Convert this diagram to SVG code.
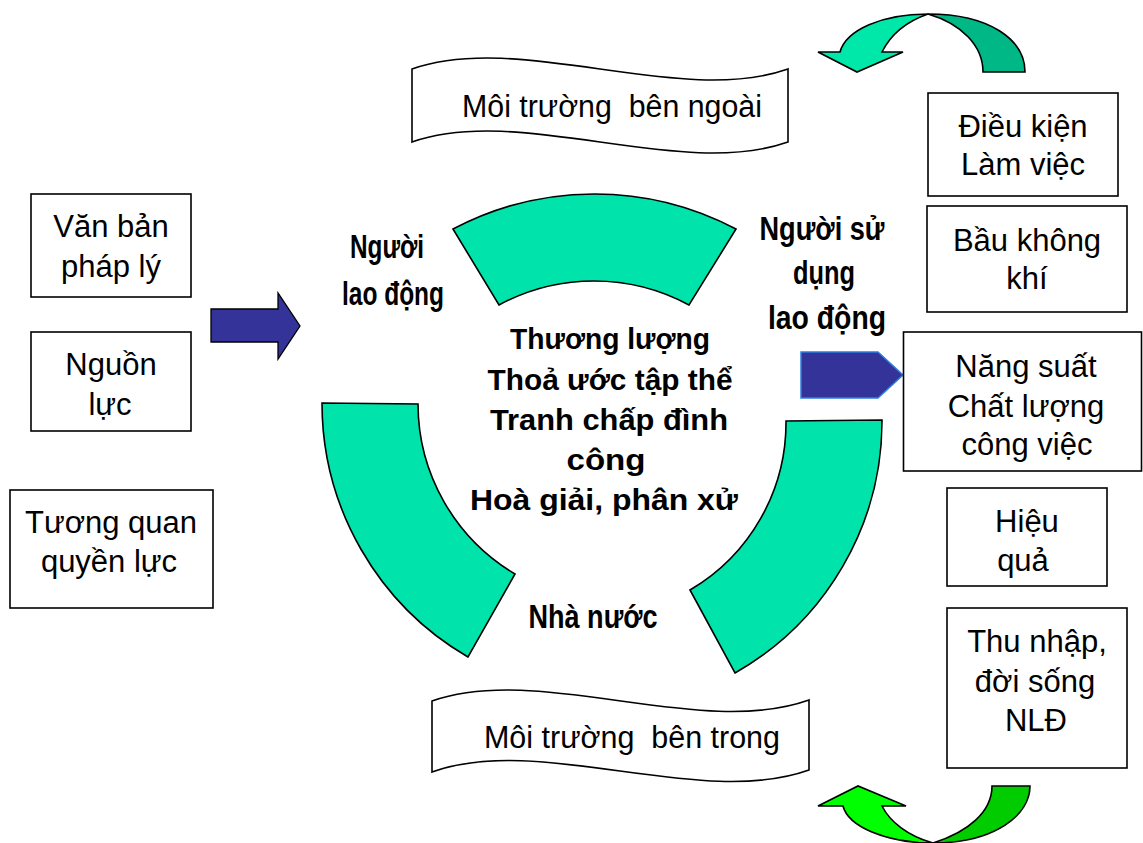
<svg xmlns="http://www.w3.org/2000/svg" width="1143" height="843" viewBox="0 0 1143 843">
<style>
.box{fill:#fff;stroke:#000;stroke-width:1.6}
.t{font-family:"Liberation Sans",Arial,sans-serif;font-size:31px;fill:#000;text-anchor:middle}
.c{font-family:"Liberation Sans",Arial,sans-serif;font-size:30px;font-weight:bold;fill:#000;text-anchor:middle}
.n{font-family:"Liberation Sans",Arial,sans-serif;font-size:33px;font-weight:bold;fill:#000;text-anchor:middle}
.seg{fill:#00E3AA;stroke:#000;stroke-width:1.6;stroke-linejoin:miter}
.blue{fill:#333399;stroke:#000;stroke-width:1.3}
.band{stroke:#000;stroke-width:1.6;stroke-linejoin:miter}
</style>
<rect width="1143" height="843" fill="#fff"/>

<g id="ring">
<path class="seg" d="M453,229 A303,303 0 0 1 736,229 L689,305 A200,200 0 0 0 499,305 Z"/>
<path class="seg" d="M322,403 L418,404 A198,198 0 0 0 515,574 L468,657 A294,294 0 0 1 322,403 Z"/>
<path class="seg" d="M882,420 L786,421 A194,194 0 0 1 690,590 L735,673 A290,290 0 0 0 882,420 Z"/>
</g>

<g id="connectors">
<path class="blue" d="M211,309 L278,309 L278,293 L300,326 L278,359 L278,342 L211,342 Z"/>
<path d="M801,352 L878,352 L903,375 L878,398 L801,398 Z" fill="#333399" stroke="#2F7FE0" stroke-width="1.5"/>
<g id="arrow-top">
<path class="band" fill="#00B886" d="M928,14 C990,14 1025,40 1025,72 L983,72 C983,46 962,24 928,14 Z"/>
<path class="band" fill="#00E8A9" d="M928,14 C882,14 846,30 840,52 L818,52 L857,72 L903,52 L882,52 C890,36 905,22 928,14 Z"/>
</g>
<g id="arrow-bottom">
<path class="band" fill="#00CC00" d="M933,843 C995,843 1030,815 1030,786 L992,786 C992,812 968,832 933,843 Z"/>
<path class="band" fill="#00FF00" d="M933,843 C885,843 848,826 843,806 L818,806 L858,786 L906,806 L882,806 C890,822 908,836 933,843 Z"/>
</g>
</g>

<g id="env-outer">
<path class="box" d="M412,69 C520,31 680,107 788,69 L788,142 C680,180 520,104 412,142 Z"/>
<text class="t" x="612" y="117" textLength="300" lengthAdjust="spacingAndGlyphs" xml:space="preserve">Môi trường  bên ngoài</text>
</g>
<g id="env-inner">
<path class="box" d="M432,701 C540,663 700,739 809,700 L809,770 C700,809 540,733 432,772 Z"/>
<text class="t" x="632" y="748" textLength="296" lengthAdjust="spacingAndGlyphs" xml:space="preserve">Môi trường  bên trong</text>
</g>

<g id="van-ban">
<rect class="box" x="31" y="194" width="160" height="103"/>
<text class="t" x="111" y="237">Văn bản</text>
<text class="t" x="111" y="277">pháp lý</text>
</g>
<g id="nguon-luc">
<rect class="box" x="31" y="332" width="160" height="99"/>
<text class="t" x="111" y="375">Nguồn</text>
<text class="t" x="110" y="415">lực</text>
</g>
<g id="tuong-quan">
<rect class="box" x="10" y="490" width="203" height="118"/>
<text class="t" x="111" y="533">Tương quan</text>
<text class="t" x="109" y="572">quyền lực</text>
</g>

<g id="dieu-kien">
<rect class="box" x="928" y="93" width="190" height="103"/>
<text class="t" x="1023" y="137">Điều kiện</text>
<text class="t" x="1023" y="175">Làm việc</text>
</g>
<g id="bau-khong-khi">
<rect class="box" x="927" y="206" width="200" height="106"/>
<text class="t" x="1027" y="251">Bầu không</text>
<text class="t" x="1027" y="289">khí</text>
</g>
<g id="nang-suat">
<rect class="box" x="903.5" y="332" width="238" height="139"/>
<text class="t" x="1026" y="377">Năng suất</text>
<text class="t" x="1026" y="417">Chất lượng</text>
<text class="t" x="1027" y="455">công việc</text>
</g>
<g id="hieu-qua">
<rect class="box" x="947" y="488" width="160" height="98"/>
<text class="t" x="1027" y="532">Hiệu</text>
<text class="t" x="1023" y="571">quả</text>
</g>
<g id="thu-nhap">
<rect class="box" x="947" y="608" width="180" height="160"/>
<text class="t" x="1037" y="652">Thu nhập,</text>
<text class="t" x="1035" y="692">đời sống</text>
<text class="t" x="1036" y="731">NLĐ</text>
</g>

<g id="nguoi-lao-dong">
<text class="n" x="387" y="258" textLength="74" lengthAdjust="spacingAndGlyphs">Người</text>
<text class="n" x="393" y="305" textLength="102" lengthAdjust="spacingAndGlyphs">lao động</text>
</g>
<g id="nguoi-su-dung">
<text class="n" x="822" y="240" textLength="125" lengthAdjust="spacingAndGlyphs">Người sử</text>
<text class="n" x="824" y="284" textLength="62" lengthAdjust="spacingAndGlyphs">dụng</text>
<text class="n" x="827" y="329" textLength="118" lengthAdjust="spacingAndGlyphs">lao động</text>
</g>
<g id="nha-nuoc">
<text class="n" x="593" y="628" textLength="129" lengthAdjust="spacingAndGlyphs">Nhà nước</text>
</g>

<g id="center-text">
<text class="c" x="610" y="349" textLength="200" lengthAdjust="spacingAndGlyphs">Thương lượng</text>
<text class="c" x="610" y="390" textLength="245" lengthAdjust="spacingAndGlyphs">Thoả ước tập thể</text>
<text class="c" x="609" y="430" textLength="238" lengthAdjust="spacingAndGlyphs">Tranh chấp đình</text>
<text class="c" x="606" y="470" textLength="79" lengthAdjust="spacingAndGlyphs">công</text>
<text class="c" x="604" y="510" textLength="268" lengthAdjust="spacingAndGlyphs">Hoà giải, phân xử</text>
</g>
</svg>
